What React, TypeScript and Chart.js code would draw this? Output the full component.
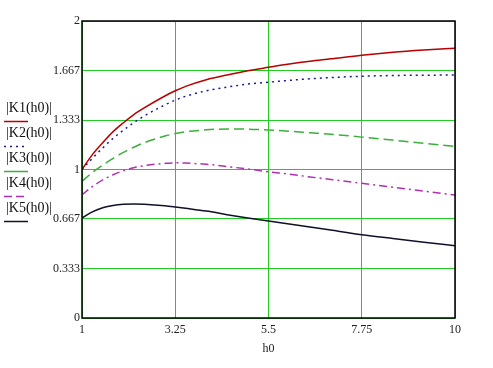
import React, { useEffect, useRef } from "react";
import { Chart, registerables } from "chart.js";

Chart.register(...registerables);

const h0 = [1, 1.25, 1.5, 1.75, 2, 2.25, 2.5, 3, 3.25, 3.5, 4, 4.5, 5, 5.5, 6, 6.5, 7, 7.75, 8.5, 9.25, 10];
const K1 = [1.0, 1.1, 1.18, 1.255, 1.315, 1.37, 1.415, 1.495, 1.53, 1.56, 1.605, 1.637, 1.665, 1.688, 1.71, 1.729, 1.745, 1.77, 1.79, 1.805, 1.817];
const K2 = [1.0, 1.075, 1.145, 1.21, 1.265, 1.315, 1.36, 1.435, 1.467, 1.493, 1.53, 1.555, 1.575, 1.588, 1.6, 1.611, 1.619, 1.628, 1.633, 1.635, 1.636];
const K3 = [0.92, 0.98, 1.03, 1.075, 1.115, 1.15, 1.18, 1.225, 1.242, 1.254, 1.267, 1.273, 1.272, 1.266, 1.258, 1.248, 1.238, 1.218, 1.198, 1.176, 1.155];
const K4 = [0.83, 0.885, 0.93, 0.965, 0.992, 1.012, 1.026, 1.041, 1.045, 1.043, 1.035, 1.02, 1.003, 0.985, 0.968, 0.95, 0.933, 0.907, 0.88, 0.854, 0.828];
const K5 = [0.673, 0.715, 0.742, 0.758, 0.766, 0.768, 0.766, 0.756, 0.748, 0.739, 0.72, 0.696, 0.674, 0.653, 0.633, 0.613, 0.592, 0.561, 0.535, 0.51, 0.487];

const xTicks = [1, 3.25, 5.5, 7.75, 10];
const yTicks = [0, 0.333, 0.667, 1, 1.333, 1.667, 2];
const seriesNames = ["|K1(h0)|", "|K2(h0)|", "|K3(h0)|", "|K4(h0)|", "|K5(h0)|"];
const xTitle = "h0";

const seriesStyles = [
  { color: "#b80000", dash: [] as number[] },
  { color: "#1a1a9a", dash: [2, 4] },
  { color: "#3cb03c", dash: [10, 5] },
  { color: "#b030b0", dash: [8, 4, 2, 4] },
  { color: "#101028", dash: [] as number[] },
];
const legendDash = [[], [2, 4], [], [8, 4], []];

const FONT = "'Liberation Serif', 'DejaVu Serif', serif";

export default function App() {
  const ref = useRef<HTMLCanvasElement | null>(null);
  useEffect(() => {
    document.body.style.margin = "0";
    const canvas = ref.current!;
    const all = [K1, K2, K3, K4, K5];
    const datasets = all.map((vals, i) => ({
      label: seriesNames[i],
      data: h0.map((x, j) => ({ x, y: vals[j] })),
      borderColor: seriesStyles[i].color,
      borderDash: seriesStyles[i].dash,
      borderWidth: 1.5,
      pointRadius: 0,
      showLine: true,
      fill: false,
      cubicInterpolationMode: "monotone" as const,
    }));

    const legendPlugin = {
      id: "mcLegend",
      afterDraw(chart: any) {
        const ctx = chart.ctx;
        const area = chart.chartArea;
        ctx.save();
        ctx.strokeStyle = "#000";
        ctx.lineWidth = 1.5;
        ctx.setLineDash([]);
        ctx.strokeRect(area.left, area.top, area.right - area.left, area.bottom - area.top);
        ctx.font = "14px " + FONT;
        ctx.textBaseline = "middle";
        ctx.textAlign = "left";
        seriesNames.forEach((name, i) => {
          const ty = 108 + i * 25;
          ctx.fillStyle = "#111";
          ctx.fillText(name, 6, ty);
          ctx.beginPath();
          ctx.strokeStyle = seriesStyles[i].color;
          ctx.lineWidth = 1.5;
          ctx.setLineDash(legendDash[i]);
          ctx.moveTo(4, ty + 13.5);
          ctx.lineTo(28, ty + 13.5);
          ctx.stroke();
        });
        ctx.restore();
      },
    };

    const chart = new Chart(canvas, {
      type: "scatter",
      data: { datasets },
      options: {
        animation: false,
        responsive: false,
        maintainAspectRatio: false,
        layout: { padding: { left: 0, top: 21, right: 38, bottom: 0 } },
        plugins: { legend: { display: false }, tooltip: { enabled: false } },
        scales: {
          x: {
            type: "linear",
            min: 1,
            max: 10,
            afterBuildTicks: (axis: any) => {
              axis.ticks = xTicks.map((v) => ({ value: v }));
            },
            afterFit: (axis: any) => {
              axis.height = 50;
            },
            grid: { color: "#22cc22", lineWidth: 1, drawTicks: false },
            border: { display: false },
            ticks: {
              color: "#222",
              padding: 5,
              font: { family: FONT, size: 12 },
              callback: (v: any) => String(v),
              maxRotation: 0,
              autoSkip: false,
            },
            title: {
              display: true,
              text: xTitle,
              color: "#222",
              font: { family: FONT, size: 12 },
              padding: { top: 2, bottom: 12 },
            },
          },
          y: {
            type: "linear",
            min: 0,
            max: 2,
            afterBuildTicks: (axis: any) => {
              axis.ticks = yTicks.map((v) => ({ value: v }));
            },
            afterFit: (axis: any) => {
              axis.width = 82;
            },
            grid: { color: "#22cc22", lineWidth: 1, drawTicks: false },
            border: { display: false },
            ticks: {
              color: "#222",
              padding: 2,
              font: { family: FONT, size: 12 },
              callback: (v: any) => String(v),
              autoSkip: false,
            },
          },
        },
      },
      plugins: [legendPlugin],
    } as any);
    return () => chart.destroy();
  }, []);
  return (
    <div style={{ position: "fixed", left: 0, top: 0, width: 493, height: 368, background: "#fff" }}>
      <canvas ref={ref} width={493} height={368} style={{ width: 493, height: 368 }} />
    </div>
  );
}
